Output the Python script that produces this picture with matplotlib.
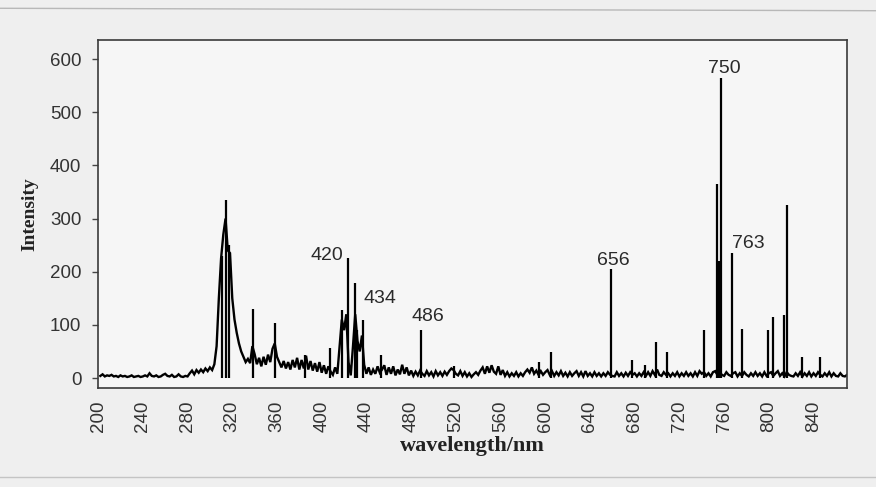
import numpy as np
import matplotlib
matplotlib.use("Agg")
import matplotlib.pyplot as plt
from matplotlib.lines import Line2D

# Emission spectrum: background sampled every 2 nm from 202 nm to 870 nm
wavelength = np.arange(202, 872, 2)
background = [
    4, 7, 3, 5, 4, 6, 3, 4, 2, 5,
    3, 4, 2, 3, 5, 2, 3, 4, 2, 3,
    5, 3, 9, 4, 3, 5, 2, 3, 6, 8,
    4, 3, 6, 2, 3, 7, 3, 2, 4, 3,
    9, 14, 7, 15, 10, 16, 11, 18, 13, 20,
    15, 26, 60, 150, 225, 270, 300, 240, 235, 150,
    110, 85, 65, 50, 40, 30, 36, 28, 60, 45,
    26, 38, 22, 40, 25, 44, 30, 55, 65, 40,
    30, 20, 32, 18, 30, 16, 34, 20, 38, 16,
    34, 18, 42, 16, 32, 14, 28, 12, 30, 10,
    24, 8, 22, 12, 6, 20, 8, 60, 110, 90,
    120, 30, 5, 60, 120, 70, 50, 80, 25, 8,
    20, 6, 16, 8, 22, 10, 16, 24, 6, 20,
    8, 22, 5, 16, 7, 25, 8, 20, 5, 14,
    4, 12, 5, 14, 8, 4, 13, 5, 11, 3,
    13, 5, 11, 4, 12, 6, 13, 18, 15, 8,
    5, 13, 4, 11, 3, 9, 2, 7, 11, 6,
    14, 20, 8, 22, 10, 24, 12, 8, 22, 6,
    15, 4, 11, 3, 9, 4, 11, 3, 9, 4,
    11, 16, 10, 20, 8, 14, 6, 13, 6, 11,
    15, 6, 13, 4, 11, 5, 13, 4, 10, 3,
    11, 4, 9, 13, 4, 11, 3, 13, 4, 9,
    3, 11, 4, 9, 3, 9, 4, 11, 6, 4,
    3, 11, 4, 9, 3, 10, 4, 11, 6, 9,
    3, 9, 4, 11, 4, 11, 4, 13, 6, 16,
    6, 4, 11, 6, 9, 3, 9, 4, 11, 3,
    9, 4, 11, 4, 9, 3, 11, 4, 13, 8,
    11, 4, 9, 3, 11, 13, 6, 11, 6, 4,
    11, 6, 4, 9, 11, 3, 9, 4, 11, 6,
    3, 9, 4, 11, 4, 9, 3, 11, 4, 9,
    11, 4, 9, 13, 4, 9, 3, 11, 6, 4,
    3, 9, 4, 11, 3, 9, 4, 11, 3, 9,
    4, 11, 6, 3, 9, 4, 11, 3, 9, 4,
    3, 9, 4, 3, 6,
]

# Narrow emission lines
line_nm = [311, 314, 317.5, 338.5, 358.5, 385, 407, 418, 423.5, 430, 432,
           437, 453, 489, 518, 594, 605, 659, 678, 689, 699, 709, 742,
           754, 755.5, 757, 767, 776, 799, 804, 814, 816.5, 830, 846]
line_int = [230, 335, 250, 130, 103, 43, 56, 128, 225, 178, 90,
            109, 43, 90, 23, 30, 49, 205, 34, 24, 68, 49, 90,
            365, 220, 565, 235, 92, 90, 115, 118, 325, 40, 40]

# Peak annotations: text, position of the label
label_text = ["420", "434", "486", "656", "750", "763"]
label_nm = [405, 452, 495, 661, 760.5, 782]
label_int = [231, 150, 115, 222, 583, 254]

fig = plt.figure(figsize=(8.76, 4.87), dpi=100, facecolor="#efefef")
ax = fig.add_axes([0.112, 0.203, 0.855, 0.715])
ax.set_facecolor("#f6f6f6")

ax.plot(wavelength, background, color="black", lw=1.7, solid_joinstyle="miter")
ax.vlines(line_nm, 0, line_int, color="black", lw=1.6)

for t, x, y in zip(label_text, label_nm, label_int):
    ax.text(x, y, t, ha="center", va="center", fontsize=14,
            family="Liberation Sans", color="#2a2a2a")

ax.set_xlim(202.7, 870)
ax.set_ylim(-19, 636)
ax.set_xticks(np.arange(200, 841, 40))
ax.set_yticks(np.arange(0, 601, 100))
ax.tick_params(axis="x", length=0, pad=9, labelrotation=90, labelsize=13.5,
               labelcolor="#333333")
ax.tick_params(axis="y", length=4, width=1, pad=8, direction="out",
               labelsize=13.5, labelcolor="#333333", color="#444444")
for lab in ax.get_xticklabels() + ax.get_yticklabels():
    lab.set_family("Liberation Sans")

for sp in ax.spines.values():
    sp.set_color("#3a3a3a")
    sp.set_linewidth(1.2)

ax.set_xlabel("wavelength/nm", fontsize=16, fontweight="bold",
              family="Liberation Serif", labelpad=3, color="#222222")
ax.set_ylabel("Intensity", fontsize=14, fontweight="bold",
              family="Liberation Serif", labelpad=8, color="#222222")

# Thin rules above and below the figure
fig.add_artist(Line2D([0, 1], [0.983, 0.978], transform=fig.transFigure,
                      color="#b8b8b8", lw=1))
fig.add_artist(Line2D([0, 1], [0.02, 0.02], transform=fig.transFigure,
                      color="#c4c4c4", lw=1))

fig.savefig("out.png", dpi=100, facecolor=fig.get_facecolor())
